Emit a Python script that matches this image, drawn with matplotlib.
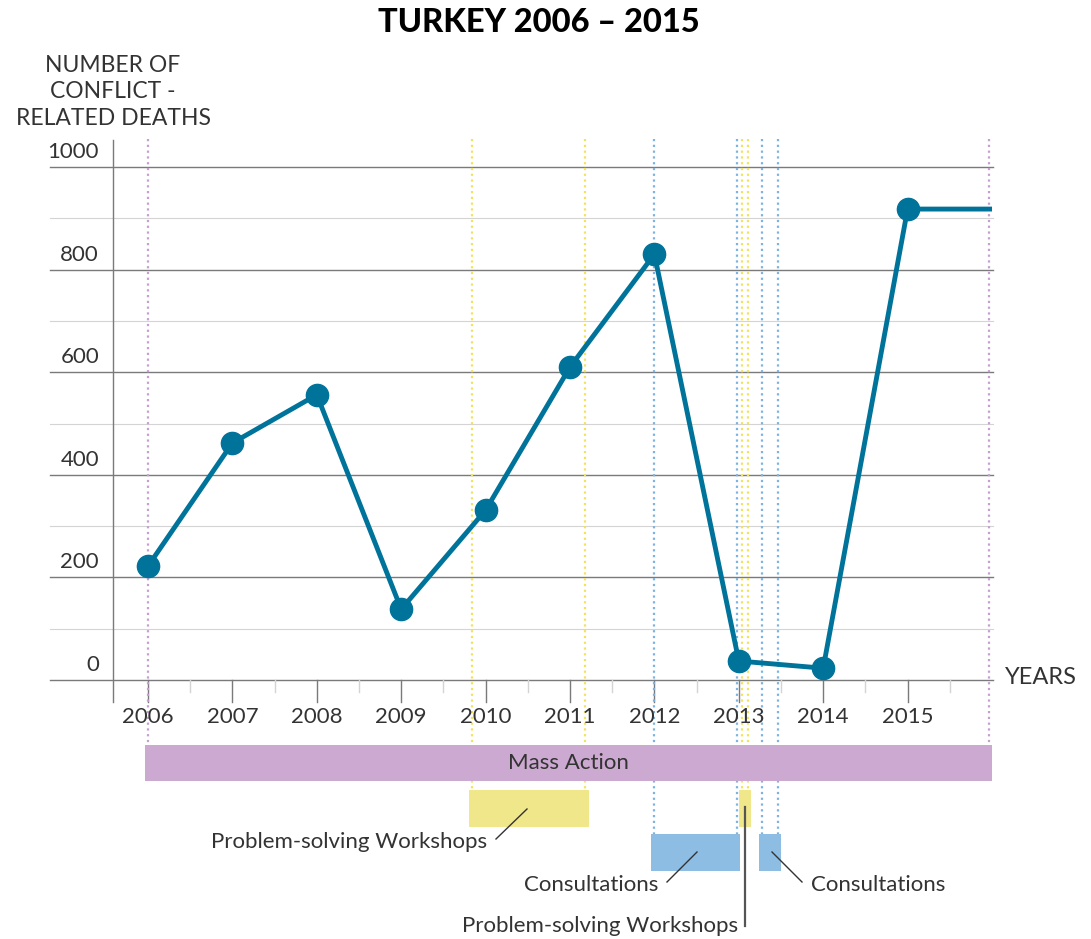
"""
turkey_deaths.py

Conflict-related deaths in Turkey 2006-2015, with intervention periods below.
"""
import matplotlib
matplotlib.use("Agg")
import matplotlib.pyplot as plt

# data
years = [2006, 2007, 2008, 2009, 2010, 2011, 2012, 2013, 2014, 2015]
deaths = [222, 462, 556, 138, 331, 610, 830, 37, 23, 918]
line_end = 2016.0

y_ticks = [0, 200, 400, 600, 800, 1000]
y_minor = [100, 300, 500, 700, 900]

# intervention periods (start year, end year)
mass_action = [(2006.0, 2015.96)]
workshops = [(2009.84, 2011.18), (2013.04, 2013.11)]
consultations = [(2012.0, 2012.98), (2013.28, 2013.46)]

LINE_COLOR = "#00739a"
PURPLE = "#cca9d0"
YELLOW = "#f0e68a"
BLUE = "#8dbde3"
TEXT = "#333333"
FONT = "Lato"
FS = 16

# pixel layout -> data coordinates (x: 84.4 px per year, y: 0.513 px per death)
PX_YEAR, X0_PX = 84.4, 148
PX_UNIT, Y0_PX = 0.513, 680


def px_x(px):
    return 2006 + (px - X0_PX) / PX_YEAR


def px_y(py):
    return (Y0_PX - py) / PX_UNIT


def label(x, y, s, **kw):
    opts = dict(fontsize=FS, color=TEXT, family=FONT, va="center")
    opts.update(kw)
    ax.text(x, y, s, **opts)


fig = plt.figure(figsize=(10.91, 9.39), dpi=100)
ax = fig.add_axes([0, 0, 1, 1])
ax.set_xlim(px_x(0), px_x(1091))
ax.set_ylim(px_y(939), px_y(0))
ax.axis("off")

# gridlines
for v in y_minor:
    ax.plot([px_x(50), px_x(993)], [v, v], color="#d4d4d4", lw=0.8, zorder=1)
for v in y_ticks:
    ax.plot([px_x(50), px_x(993)], [v, v], color="#7a7a7a", lw=1.0, zorder=1)
    label(px_x(99), v + 5 / PX_UNIT, str(v), ha="right", va="bottom")

# y axis line
ax.plot([px_x(113), px_x(113)], [px_y(140), px_y(702)], color="#7a7a7a", lw=1.0, zorder=1)

# x ticks
for yr in years:
    ax.plot([yr, yr], [0, px_y(702)], color="#7a7a7a", lw=1.0, zorder=1)
    label(yr, px_y(717), str(yr), ha="center")
for yr in years:
    ax.plot([yr + 0.5, yr + 0.5], [0, px_y(692)], color="#d4d4d4", lw=1.0, zorder=1)

# dotted period markers and bars
rows = [
    (mass_action, PURPLE, "#c59fd0", 745, 781),
    (workshops, YELLOW, "#f3e25c", 790, 827),
    (consultations, BLUE, "#7db3e0", 834, 871),
]
pad = 0.04
for periods, fill, dot, top_px, bot_px in rows:
    for start, end in periods:
        for edge in (start, end):
            ax.plot([edge, edge], [px_y(139), px_y(top_px)], color=dot, lw=1.6,
                    linestyle=(0, (1, 1.6)), zorder=2)
        ax.fill_between([start - pad, end + pad], px_y(bot_px), px_y(top_px),
                        color=fill, lw=0, zorder=3)

label((mass_action[0][0] + mass_action[0][1]) / 2, px_y(763), "Mass Action",
      ha="center", zorder=4)

# main line
ax.plot(years + [line_end], deaths + [deaths[-1]], color=LINE_COLOR, lw=3.5,
        solid_capstyle="butt", zorder=5)
ax.plot(years, deaths, "o", color=LINE_COLOR, markersize=16, zorder=6)

# annotations
lead = dict(color="#333333", lw=1.0, zorder=6)
ax.plot([px_x(496), px_x(527)], [px_y(839), px_y(809)], **lead)
label(px_x(487), px_y(842), "Problem-solving Workshops", ha="right")

ax.plot([px_x(667), px_x(697)], [px_y(882), px_y(852)], **lead)
label(px_x(658), px_y(885), "Consultations", ha="right")

ax.plot([px_x(772), px_x(802)], [px_y(852), px_y(882)], **lead)
label(px_x(811), px_y(885), "Consultations", ha="left")

ax.plot([px_x(745), px_x(745)], [px_y(807), px_y(926)], color="#555555", lw=1.6, zorder=6)
label(px_x(738), px_y(926), "Problem-solving Workshops", ha="right")

# titles and axis labels
label(px_x(539), px_y(22), "TURKEY 2006 \u2013 2015", ha="center",
      fontsize=23.5, color="#000000", fontweight="black")
label(px_x(113), px_y(92), "NUMBER OF\nCONFLICT -\nRELATED DEATHS", ha="center",
      fontsize=16.5, linespacing=1.32)
label(px_x(1005), px_y(678), "YEARS", ha="left", fontsize=17)

fig.savefig("out.png", dpi=100)
plt.close(fig)
